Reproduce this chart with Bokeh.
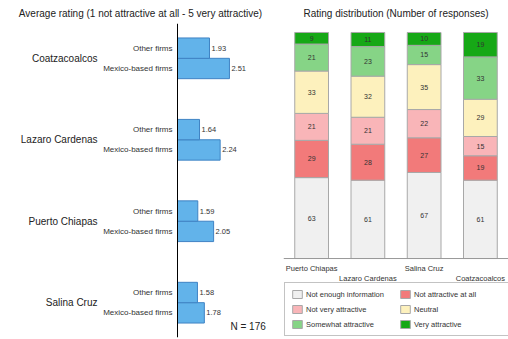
import numpy as np
from bokeh.plotting import figure
from bokeh.layouts import row
from bokeh.models import (ColumnDataSource, FactorRange, Range1d, Legend, LegendItem, Span)
from bokeh.core.properties import value
from bokeh.embed import file_html
from bokeh.resources import INLINE

# ---- data: average rating ----
locations = ["Coatzacoalcos", "Lazaro Cardenas", "Puerto Chiapas", "Salina Cruz"]
firm_types = ["Other firms", "Mexico-based firms"]
other_firms = [1.93, 1.64, 1.59, 1.58]
mexico_firms = [2.51, 2.24, 2.05, 1.78]
n_total = 176

# ---- data: rating distribution ----
ports = ["Puerto Chiapas", "Lazaro Cardenas", "Salina Cruz", "Coatzacoalcos"]
categories = ["Not enough information", "Not attractive at all", "Not very attractive",
              "Neutral", "Somewhat attractive", "Very attractive"]
not_enough = [63, 61, 67, 61]
not_at_all = [29, 28, 27, 19]
not_very = [21, 21, 22, 15]
neutral = [33, 32, 35, 29]
somewhat = [21, 23, 15, 33]
very = [9, 11, 10, 19]
colors = ["#f0f0f0", "#f27a7a", "#f9b5b8", "#fdf1bd", "#86d486", "#16a816"]

FONT = "Liberation Sans"
PX = 34.4  # pixels per rating unit in the left panel

# ================= left figure =================
factors = []
xs = []
for loc, o, m in zip(locations[::-1], other_firms[::-1], mexico_firms[::-1]):
    factors.append((loc, firm_types[1]))
    xs.append(m)
    factors.append((loc, firm_types[0]))
    xs.append(o)
labels = ["%.2f" % v for v in xs]
lsrc = ColumnDataSource(dict(y=factors, x=xs, lab=labels, sub=[f[1] for f in factors]))

yr = FactorRange(*factors, group_padding=2.0, range_padding=0.71, range_padding_units="absolute")
p1 = figure(width=280, height=339, y_range=yr, x_range=Range1d(1 - 177 / PX, 1 + 103 / PX),
            output_backend="svg", toolbar_location=None, x_axis_location=None, y_axis_location=None,
            min_border_left=0, min_border_right=0, min_border_top=23, min_border_bottom=2)
p1.outline_line_color = None
p1.grid.visible = False
p1.title.text = "Average rating (1 not attractive at all - 5 very attractive)"
p1.title.align = "center"
p1.title.text_font = FONT
p1.title.text_font_size = "10px"
p1.title.text_font_style = "normal"
p1.title.text_color = "#222222"

p1.hbar(y="y", left=1, right="x", height=1.0, source=lsrc,
        fill_color="#62b3ea", line_color="#3f83c4", line_width=1)
p1.add_layout(Span(location=1, dimension="height", line_color="black", line_width=1))
p1.text(x="x", y="y", text="lab", source=lsrc, x_offset=2, text_baseline="middle",
        text_align="left", text_font_size="7.5px", text_color="#333333",
        text_font=value(FONT))
p1.text(x=1, y="y", text="sub", source=lsrc, x_offset=-5, text_baseline="middle",
        text_align="right", text_font_size="8px", text_color="#333333",
        text_font=value(FONT))
p1.text(x=[1] * len(locations), y=locations, text=locations, x_offset=-80,
        text_baseline="middle", text_align="right", text_font_size="10px",
        text_color="#222222", text_font=value(FONT))
p1.text(x=[2.54], y=[factors[0]], text=["N = %d" % n_total], y_offset=13.5,
        text_baseline="middle", text_align="left", text_font_size="10px",
        text_color="#222222", text_font=value(FONT))

# ================= right figure =================
data = dict(ports=ports)
stack_vals = [not_enough, not_at_all, not_very, neutral, somewhat, very]
for c, v in zip(categories, stack_vals):
    data[c] = v
rsrc = ColumnDataSource(data)

p2 = figure(width=228, height=339, x_range=FactorRange(*ports), y_range=Range1d(-61.5, 183),
            output_backend="svg", toolbar_location=None, y_axis_location=None, x_axis_location=None,
            min_border_left=3, min_border_right=0, min_border_top=23, min_border_bottom=2)
p2.outline_line_color = None
p2.grid.visible = False
p2.title.text = "Rating distribution (Number of responses)"
p2.title.align = "center"
p2.title.text_font = FONT
p2.title.text_font_size = "10px"
p2.title.text_font_style = "normal"
p2.title.text_color = "#222222"

rends = p2.vbar_stack(categories, x="ports", width=0.6, source=rsrc,
                      fill_color=colors, line_color="#a8a8a8", line_width=1)
p2.add_layout(Span(location=0, dimension="width", line_color="#999999", line_width=1))

arr = np.array(stack_vals, dtype=float)
cum = np.cumsum(arr, axis=0)
mids = cum - arr / 2
tx, ty, tt = [], [], []
for i in range(arr.shape[0]):
    for j, port in enumerate(ports):
        tx.append(port)
        ty.append(mids[i, j])
        tt.append(str(int(arr[i, j])))
p2.text(x=tx, y=ty, text=tt, text_align="center", text_baseline="middle",
        text_font_size="7px", text_color="#333333", text_font=value(FONT))

p2.text(x=ports, y=[0] * len(ports), text=ports, text_align="center", text_baseline="top",
        y_offset=[5, 15, 5, 15], text_font_size="7.5px", text_color="#333333",
        text_font=value(FONT))

legend = Legend(items=[LegendItem(label=c, renderers=[r]) for c, r in zip(categories, rends)],
                orientation="horizontal", ncols=2, location="bottom_left",
                label_text_font=FONT, label_text_font_size="7.5px", label_text_color="#333333",
                glyph_width=12, glyph_height=10, label_standoff=3, spacing=5,
                padding=6, margin=1, border_line_color="#888888",
                label_height=10, label_width=88, background_fill_alpha=1.0)
p2.add_layout(legend)

layout = row(p1, p2)
open("out.html", "w").write(file_html(layout, INLINE))
